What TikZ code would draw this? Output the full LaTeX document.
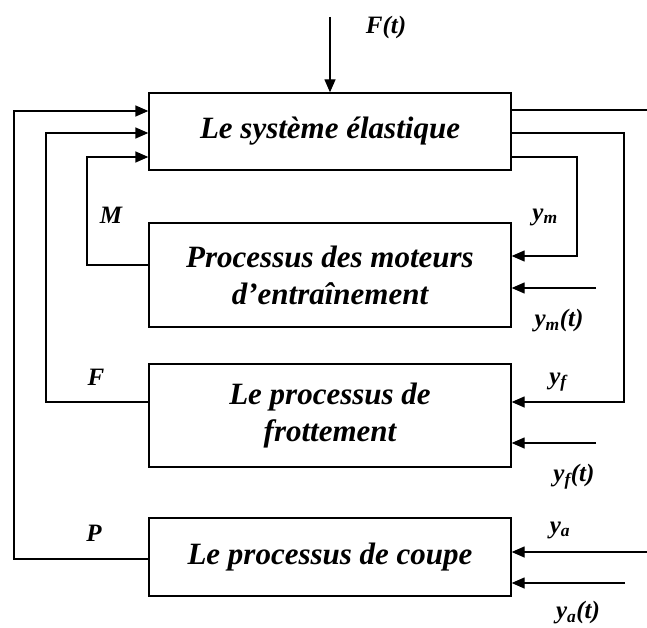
\documentclass[tikz,border=0pt]{standalone}
\usepackage{fontspec}
\setmainfont{Liberation Serif}
\usetikzlibrary{
  arrows.meta,
  positioning
}

\begin{document}
\begin{tikzpicture}[x=1pt,y=-1pt,
      block/.style={
         rectangle,
         draw=black,
         line width=1.3pt,
         minimum width=362pt,
         inner sep=0pt,
         align=center,
         font=\bfseries\itshape\fontsize{31}{37}\selectfont
      },
      sig/.style={
         inner sep=0pt,
         font=\bfseries\itshape\fontsize{25}{28}\selectfont
      },
      point/.style={coordinate},
      >={Triangle[length=13pt,width=11pt]},line width=1.3pt,
      tip/.style={->},
    ]
    \useasboundingbox (0,0) rectangle (647,628);
    % the four blocks
    \node (n1) [block, minimum height=77pt]  at (330,131.5) {Le système élastique};
    \node (n2) [block, minimum height=104pt] at (330,275)   {Processus des moteurs\\d’entraînement};
    \node (n3) [block, minimum height=103pt] at (330,415.5) {Le processus de\\frottement};
    \node (n4) [block, minimum height=78pt]  at (330,557)   {Le processus de coupe};
    % bend and end points
    \node (f0) [point] at (330,17) {};
    \node (p1) [point] at (14,111) {};
    \node (p2) [point] at (46,133) {};
    \node (p3) [point] at (87,157) {};
    \node (q0) [point] at (650,110) {};
    \node (q1) [point] at (624,402) {};
    \node (q2) [point] at (577,256) {};
    \node (u2) [point] at (596,288) {};
    \node (u3) [point] at (596,443) {};
    \node (u4) [point] at (650,552) {};
    \node (u5) [point] at (625,583) {};
    % feedback to the elastic system
    \draw [tip] (f0) -- (n1.north);
    \draw [tip] ([yshift=-2pt]n4.west) -| (p1) -- ([yshift=20.5pt]n1.west);
    \draw [tip] ([yshift=13.5pt]n3.west) -| (p2) -- ([yshift=-1.5pt]n1.west);
    \draw [tip] ([yshift=10pt]n2.west) -| (p3) -- ([yshift=-25.5pt]n1.west);
    % outputs of the elastic system
    \draw (n1.east |- q0) -- (q0);
    \draw [tip] ([yshift=-1.5pt]n1.east) -| (q1) -- ([yshift=13.5pt]n3.east);
    \draw [tip] ([yshift=-25.5pt]n1.east) -| (q2) -- ([yshift=19pt]n2.east);
    % outer inputs
    \draw [tip] (u2) -- ([yshift=-13pt]n2.east);
    \draw [tip] (u3) -- ([yshift=-27.5pt]n3.east);
    \draw [tip] (u4) -- ([yshift=5pt]n4.east);
    \draw [tip] (u5) -- ([yshift=-26pt]n4.east);
    % labels
    \node (lft) [sig] at (386,27)  {F(t)};
    \node (lM)  [sig] at (111,215) {M};
    \node (lF)  [sig] at (96,377)  {F};
    \node (lP)  [sig] at (94,533)  {P};
    \node (lym) [sig] at (545,217) {y\textsubscript{m}};
    \node (lymt)[sig] at (559,321) {y\textsubscript{m}(t)};
    \node (lyf) [sig] at (558,382) {y\textsubscript{f}};
    \node (lyft)[sig] at (574,477) {y\textsubscript{f}(t)};
    \node (lya) [sig] at (560,530) {y\textsubscript{a}};
    \node (lyat)[sig] at (578,613) {y\textsubscript{a}(t)};
\end{tikzpicture}
\end{document}
